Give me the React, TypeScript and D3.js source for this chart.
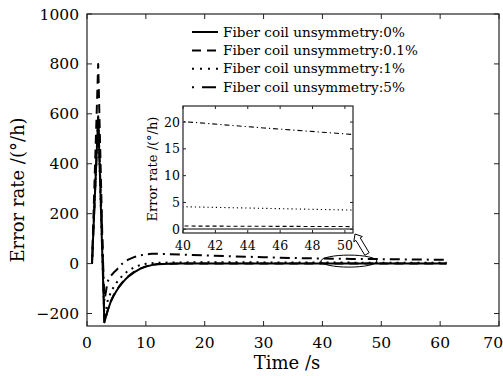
import * as d3 from "d3";

// time axis (s) shared by all series
const time = [0.85, 1.9, 2.95, 3.5, 4, 4.5, 5, 5.5, 6, 6.5, 7, 8, 9, 10, 11, 12, 14, 16, 20, 25, 30, 35, 40, 45, 50, 55, 61.1];

// error rate (deg/h) for each coil unsymmetry
const err0 = [0, 585, -235, -190, -155, -130, -110, -92, -77, -64, -53, -35, -21, -12, -6, -3, -1, 0, 0, 0, 0, 0.05, 0.05, 0.05, 0.05, 0.05, 0.05];
const err01 = [0, 800, -235, -188, -153, -128, -108, -90, -75, -62, -51, -33, -20, -11, -5, -2, -0.5, 0.3, 0.6, 0.65, 0.65, 0.62, 0.6, 0.55, 0.5, 0.45, 0.4];
const err1 = [0, 580, -225, -150, -118, -95, -77, -62, -49, -38, -29, -15, -6, -1, 1.5, 3, 4.2, 4.8, 5.2, 5.1, 4.9, 4.6, 4.2, 3.9, 3.6, 3.3, 3.0];
const err5 = [0, 590, -150, -72, -50, -37, -26, -12, 0, 9, 16, 26, 33, 37, 39, 39, 38, 36, 33, 29, 25.5, 22.5, 20.1, 18.9, 17.8, 16.6, 15.2];

const legendLabels = [
  "Fiber coil unsymmetry:0%",
  "Fiber coil unsymmetry:0.1%",
  "Fiber coil unsymmetry:1%",
  "Fiber coil unsymmetry:5%",
];

const xTicks = [0, 10, 20, 30, 40, 50, 60, 70];
const yTicks = [-200, 0, 200, 400, 600, 800, 1000];
const insetXTicks = [40, 42, 44, 46, 48, 50];
const insetYTicks = [0, 5, 10, 15, 20];

const FONT = "'DejaVu Serif', 'Liberation Serif', serif";
const INK = "#222";

const series = [err0, err01, err1, err5];
const mainDash = [null, "9,6", "2,5", "2,5,10,5"];
const insetDash = [null, "4,3", "1.2,3", "5,3,1.2,3"];
const legendDash = [null, "9,6", "2,6", "2,8,14,4"];

export default function App() {
  const width = 503;
  const height = 376;

  // main axes box
  const m = { left: 87, right: 499, top: 14, bottom: 326 };
  const x = d3.scaleLinear([0, 70], [m.left, m.right]);
  const y = d3.scaleLinear([-250, 1000], [m.bottom, m.top]);

  // inset box
  const ib = { left: 183, right: 353, top: 106, bottom: 233 };
  const ix = d3.scaleLinear([40, 50.5], [ib.left, ib.right]);
  const iy = d3.scaleLinear([-0.7, 23], [ib.bottom, ib.top]);

  const line = d3.line<number>().x((d, i) => x(time[i])).y((d) => y(d));
  const iline = d3.line<number>().x((d, i) => ix(time[i])).y((d) => iy(d));

  // hollow arrow from the ellipse up to the inset corner
  const tip: [number, number] = [ix(50.5) + 2, iy(-0.7) + 1];
  const tail: [number, number] = [tip[0] + 12, tip[1] + 20];
  const dx = tip[0] - tail[0], dy = tip[1] - tail[1];
  const len = Math.hypot(dx, dy);
  const u = [dx / len, dy / len];
  const n = [-u[1], u[0]];
  const bx = tip[0] - 6 * u[0], by = tip[1] - 6 * u[1];
  const arrowPts = [
    tip,
    [bx + 5 * n[0], by + 5 * n[1]],
    [bx + 2.5 * n[0], by + 2.5 * n[1]],
    [tail[0] + 2.5 * n[0], tail[1] + 2.5 * n[1]],
    [tail[0] - 2.5 * n[0], tail[1] - 2.5 * n[1]],
    [bx - 2.5 * n[0], by - 2.5 * n[1]],
    [bx - 5 * n[0], by - 5 * n[1]],
  ];

  return (
    <svg width={width} height={height} style={{ position: "absolute", left: 0, top: 0, background: "#fff" }}>
      <defs>
        <clipPath id="mainClip">
          <rect x={m.left} y={m.top} width={m.right - m.left} height={m.bottom - m.top} />
        </clipPath>
        <clipPath id="insetClip">
          <rect x={ib.left} y={ib.top} width={ib.right - ib.left} height={ib.bottom - ib.top} />
        </clipPath>
      </defs>
      <rect width={width} height={height} fill="#fff" />

      {/* main curves */}
      <g clipPath="url(#mainClip)">
        {series.map((s, i) => (
          <path key={i} d={line(s) ?? ""} fill="none" stroke="#000" strokeWidth={2}
            strokeDasharray={mainDash[i] ?? undefined} strokeLinejoin="round" />
        ))}
      </g>

      {/* main axes */}
      <rect x={m.left} y={m.top} width={m.right - m.left} height={m.bottom - m.top} fill="none" stroke={INK} strokeWidth={1.2} />
      {xTicks.map((t, k) => (
        <g key={"x" + t}>
          <line x1={x(t)} x2={x(t)} y1={m.bottom} y2={m.bottom - 5} stroke={INK} />
          <line x1={x(t)} x2={x(t)} y1={m.top} y2={m.top + 5} stroke={INK} />
          <text x={k === xTicks.length - 1 ? width : x(t)} y={348}
            textAnchor={k === xTicks.length - 1 ? "end" : "middle"}
            fontFamily={FONT} fontSize={15.5} fill="#000">{t}</text>
        </g>
      ))}
      {yTicks.map((t) => (
        <g key={"y" + t}>
          <line x1={m.left} x2={m.left + 5} y1={y(t)} y2={y(t)} stroke={INK} />
          <line x1={m.right} x2={m.right - 5} y1={y(t)} y2={y(t)} stroke={INK} />
          <text x={79} y={y(t) + 5.5} textAnchor="end" fontFamily={FONT} fontSize={15.5} fill="#000">
            {t < 0 ? "\u2212" + Math.abs(t) : t}
          </text>
        </g>
      ))}
      <text x={287} y={369} textAnchor="middle" fontFamily={FONT} fontSize={18} fill="#000">Time /s</text>
      <text transform={`translate(24,190) rotate(-90)`} textAnchor="middle" fontFamily={FONT} fontSize={18} fill="#000">
        Error rate /(°/h)
      </text>

      {/* legend */}
      {legendLabels.map((lab, i) => {
        const ly = 32 + i * 18.4;
        return (
          <g key={lab}>
            <line x1={192} x2={218} y1={ly} y2={ly} stroke="#000" strokeWidth={2}
              strokeDasharray={legendDash[i] ?? undefined} />
            <text x={223} y={ly + 4.5} fontFamily={FONT} fontSize={13.6} fill="#000">{lab}</text>
          </g>
        );
      })}

      {/* ellipse and arrow annotation */}
      <ellipse cx={x(44.5)} cy={y(10)} rx={28} ry={6} fill="none" stroke="#000" strokeWidth={1} />
      <polygon points={arrowPts.map((p) => p.join(",")).join(" ")} fill="#fff" stroke="#000" strokeWidth={1} />

      {/* inset */}
      <rect x={ib.left} y={ib.top} width={ib.right - ib.left} height={ib.bottom - ib.top} fill="#fff" stroke="none" />
      <g clipPath="url(#insetClip)">
        {series.map((s, i) => (
          <path key={i} d={iline(s) ?? ""} fill="none" stroke="#000" strokeWidth={1.1}
            strokeDasharray={insetDash[i] ?? undefined} />
        ))}
      </g>
      <rect x={ib.left} y={ib.top} width={ib.right - ib.left} height={ib.bottom - ib.top} fill="none" stroke={INK} strokeWidth={1.2} />
      {insetXTicks.map((t) => (
        <g key={"ix" + t}>
          <line x1={ix(t)} x2={ix(t)} y1={ib.bottom} y2={ib.bottom - 3} stroke={INK} />
          <line x1={ix(t)} x2={ix(t)} y1={ib.top} y2={ib.top + 3} stroke={INK} />
          <text x={ix(t)} y={250} textAnchor="middle" fontFamily={FONT} fontSize={12.5} fill="#000">{t}</text>
        </g>
      ))}
      {insetYTicks.map((t) => (
        <g key={"iy" + t}>
          <line x1={ib.left} x2={ib.left + 3} y1={iy(t)} y2={iy(t)} stroke={INK} />
          <line x1={ib.right} x2={ib.right - 3} y1={iy(t)} y2={iy(t)} stroke={INK} />
          <text x={180} y={iy(t) + 4.5} textAnchor="end" fontFamily={FONT} fontSize={12.5} fill="#000">{t}</text>
        </g>
      ))}
      <text transform={`translate(157,169) rotate(-90)`} textAnchor="middle" fontFamily={FONT} fontSize={13} fill="#000">
        Error rate /(°/h)
      </text>
    </svg>
  );
}
